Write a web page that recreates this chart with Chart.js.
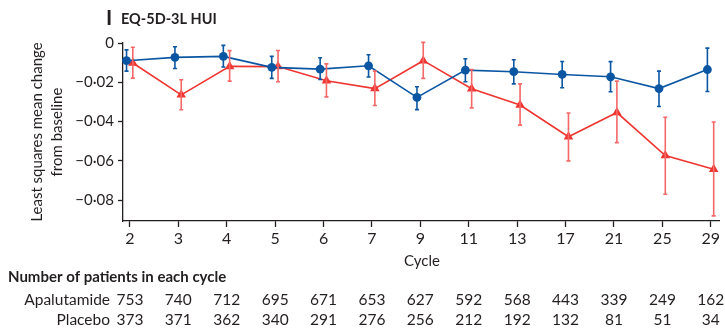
<!DOCTYPE html>
<html>
<head>
<meta charset="utf-8">
<script src="https://cdn.jsdelivr.net/npm/chart.js@4"></script>
<style>
  html, body { margin: 0; padding: 0; background: #fff; }
  #wrap { position: relative; width: 725px; height: 331px; }
</style>
</head>
<body>
<div id="wrap"><canvas id="hui"></canvas></div>
<script>
const cycles = ['2', '3', '4', '5', '6', '7', '9', '11', '13', '17', '21', '25', '29'];

// Apalutamide (blue circles)
const apaMean  = [-0.0090, -0.0073, -0.0068, -0.0124, -0.0133, -0.0116, -0.0277, -0.0138, -0.0146, -0.0160, -0.0172, -0.0232, -0.0135];
const apaLow   = [-0.0143, -0.0130, -0.0122, -0.0180, -0.0186, -0.0173, -0.0339, -0.0197, -0.0208, -0.0228, -0.0248, -0.0323, -0.0247];
const apaHigh  = [-0.0035, -0.0019, -0.0012, -0.0068, -0.0075, -0.0060, -0.0223, -0.0080, -0.0085, -0.0094, -0.0095, -0.0143, -0.0026];

// Placebo (red triangles)
const placMean = [-0.0102, -0.0264, -0.0119, -0.0120, -0.0192, -0.0232, -0.0090, -0.0233, -0.0316, -0.0477, -0.0354, -0.0573, -0.0643];
const placLow  = [-0.0179, -0.0340, -0.0194, -0.0197, -0.0274, -0.0318, -0.0180, -0.0330, -0.0418, -0.0600, -0.0507, -0.0770, -0.0880];
const placHigh = [-0.0022, -0.0187, -0.0039, -0.0038, -0.0106, -0.0143, 0.0003, -0.0135, -0.0208, -0.0356, -0.0194, -0.0378, -0.0402];

const yTicks = [0, -0.02, -0.04, -0.06, -0.08];
const yTickLabels = ['0', '\u22120\u00b702', '\u22120\u00b704', '\u22120\u00b706', '\u22120\u00b708'];

const apaPatients  = [753, 740, 712, 695, 671, 653, 627, 592, 568, 443, 339, 249, 162];
const placPatients = [373, 371, 362, 340, 291, 276, 256, 212, 192, 132, 81, 51, 34];

const BLUE = '#0b56a3';
const RED = '#ee3530';
const RED_BAR = '#f46868';
const INK = '#231f20';
const FONT = 'Lato';

const toPoints = (vals, shift) => vals.map((v, i) => ({ x: i + shift, y: v }));

// error bars drawn through the chart's own scales
const errorBars = {
    id: 'errorBars',
    afterDatasetsDraw(chart) {
        const ctx = chart.ctx;
        const xs = chart.scales.x, ys = chart.scales.y;
        chart.data.datasets.forEach(ds => {
            ctx.save();
            ctx.strokeStyle = ds.barColor;
            ctx.lineWidth = 1.6;
            ds.data.forEach((p, i) => {
                const x = xs.getPixelForValue(p.x);
                const y1 = ys.getPixelForValue(ds.low[i]);
                const y2 = ys.getPixelForValue(ds.high[i]);
                ctx.beginPath();
                ctx.moveTo(x, y1); ctx.lineTo(x, y2);
                ctx.moveTo(x - 2, y1); ctx.lineTo(x + 2, y1);
                ctx.moveTo(x - 2, y2); ctx.lineTo(x + 2, y2);
                ctx.stroke();
            });
            ctx.restore();
        });
    }
};

// panel title, axis titles and the numbers-at-risk table
const labels = {
    id: 'labels',
    afterDraw(chart) {
        const ctx = chart.ctx;
        const xs = chart.scales.x;
        ctx.save();
        ctx.fillStyle = INK;
        ctx.textBaseline = 'middle';

        ctx.font = 'bold 21px ' + FONT;
        ctx.textAlign = 'left';
        ctx.fillText('I', 106, 18);
        ctx.font = 'bold 14.5px ' + FONT;
        ctx.fillText('EQ-5D-3L HUI', 121, 19);

        // y title
        ctx.save();
        ctx.translate(37, 132);
        ctx.rotate(-Math.PI / 2);
        ctx.textAlign = 'center';
        ctx.font = '15px ' + FONT;
        ctx.fillText('Least squares mean change', 0, 0);
        ctx.fillText('from baseline', 0, 20);
        ctx.restore();

        ctx.textAlign = 'center';
        ctx.font = '15px ' + FONT;
        ctx.fillText('Cycle', 422, 261);

        ctx.textAlign = 'left';
        ctx.font = 'bold 15px ' + FONT;
        ctx.fillText('Number of patients in each cycle', 8, 277);

        ctx.font = '15.5px ' + FONT;
        ctx.textAlign = 'right';
        ctx.fillText('Apalutamide', 110, 300);
        ctx.fillText('Placebo', 110, 320);
        ctx.textAlign = 'center';
        cycles.forEach((c, i) => {
            const x = xs.getPixelForValue(i);
            ctx.fillText(String(apaPatients[i]), x, 300);
            ctx.fillText(String(placPatients[i]), x, 320);
        });
        ctx.restore();
    }
};

new Chart(document.getElementById('hui'), {
    type: 'line',
    data: {
        datasets: [
            {
                label: 'Apalutamide',
                data: toPoints(apaMean, -0.07),
                low: apaLow, high: apaHigh, barColor: BLUE,
                borderColor: BLUE, backgroundColor: BLUE,
                borderWidth: 1.6,
                pointStyle: 'circle', pointRadius: 4.4,
                pointBorderWidth: 0,
                order: 1
            },
            {
                label: 'Placebo',
                data: toPoints(placMean, 0.06),
                low: placLow, high: placHigh, barColor: RED_BAR,
                borderColor: RED, backgroundColor: RED,
                borderWidth: 1.6,
                pointStyle: 'triangle', pointRadius: 5.5,
                pointBorderWidth: 0,
                order: 2
            }
        ]
    },
    options: {
        responsive: true,
        maintainAspectRatio: false,
        animation: false,
        clip: false,
        layout: { padding: { top: 43, right: 0, left: 0, bottom: 0 } },
        plugins: {
            legend: { display: false },
            tooltip: { enabled: false }
        },
        scales: {
            x: {
                type: 'linear',
                min: -0.143,
                max: 12.18,
                afterBuildTicks: s => { s.ticks = cycles.map((c, i) => ({ value: i })); },
                afterFit: s => { s.height = 110; },
                grid: { drawOnChartArea: false, drawTicks: true, tickLength: 6, tickColor: INK, tickWidth: 1.3 },
                border: { color: INK, width: 1.3 },
                ticks: {
                    color: INK, padding: 2,
                    font: { family: FONT, size: 16 },
                    callback: v => cycles[v]
                }
            },
            y: {
                min: -0.0906,
                max: 0,
                afterBuildTicks: s => { s.ticks = yTicks.map(v => ({ value: v })); },
                afterFit: s => { s.width = 123; },
                grid: { drawOnChartArea: false, drawTicks: true, tickLength: 5, tickColor: INK, tickWidth: 1.3 },
                border: { color: INK, width: 1.3 },
                ticks: {
                    color: INK, padding: 4,
                    font: { family: FONT, size: 15 },
                    callback: v => yTickLabels[yTicks.indexOf(v)]
                }
            }
        }
    },
    plugins: [errorBars, labels]
});
</script>
</body>
</html>
